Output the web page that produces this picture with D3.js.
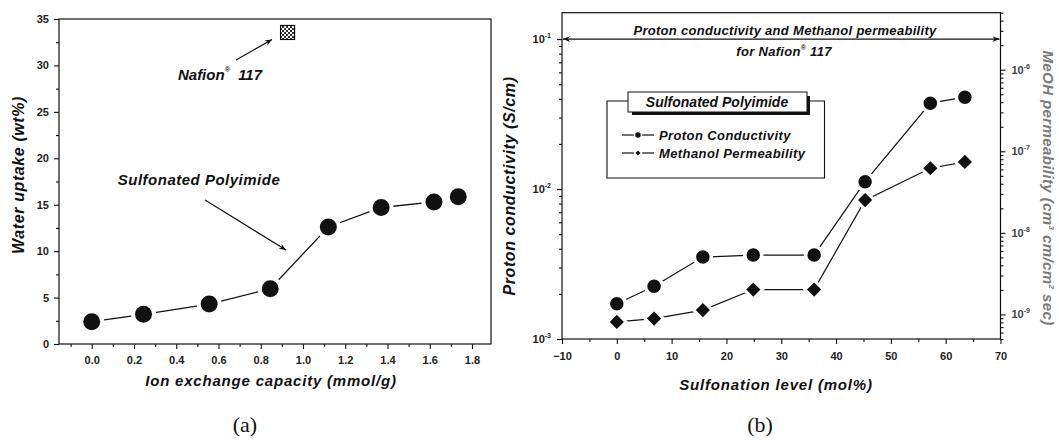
<!DOCTYPE html>
<html><head><meta charset="utf-8">
<script src="https://cdn.jsdelivr.net/npm/d3@7"></script>
<style>
body{margin:0;background:#fff}
text{font-family:"Liberation Sans",Arial,sans-serif;fill:#111}
.domain{display:none}
.tick line{stroke:#111;stroke-width:1.1}
</style>
</head><body>
<svg id="c" width="1059" height="442"></svg>
<script>
// ---- Data: panel (a)
const ionExchange = [0.0, 0.245, 0.556, 0.845, 1.12, 1.37, 1.62, 1.735];
const waterUptake = [2.4, 3.2, 4.3, 5.95, 12.6, 14.7, 15.3, 15.85];
const nafionIEC = [0.927];
const nafionWater = [33.55];
const ticksA_x = [0.0, 0.2, 0.4, 0.6, 0.8, 1.0, 1.2, 1.4, 1.6, 1.8];
const ticksA_y = [0, 5, 10, 15, 20, 25, 30, 35];

// ---- Data: panel (b)
const sulfonation = [0, 6.8, 15.7, 24.9, 36.0, 45.3, 57.2, 63.5];
const conductivity = [1.72e-3, 2.25e-3, 3.52e-3, 3.63e-3, 3.63e-3, 1.12e-2, 3.74e-2, 4.1e-2];
const permeability = [8.1e-10, 8.9e-10, 1.13e-9, 2.02e-9, 2.02e-9, 2.52e-8, 6.2e-8, 7.4e-8];
const ticksB_x = [-10, 0, 10, 20, 30, 40, 50, 60, 70];
const ticksB_yL = [1e-3, 1e-2, 1e-1];
const ticksB_yR = [1e-9, 1e-8, 1e-7, 1e-6];
const legendLabels = ["Proton Conductivity", "Methanol Permeability"];

const svg = d3.select("#c");
const defs = svg.append("defs");
defs.append("marker").attr("id","ah").attr("viewBox","0 0 10 10").attr("refX",10).attr("refY",5)
  .attr("markerWidth",9).attr("markerHeight",7).attr("orient","auto-start-reverse").attr("markerUnits","userSpaceOnUse")
  .append("path").attr("d","M0,1 L10,5 L0,9 L3,5 Z").attr("fill","#111");
const pat = defs.append("pattern").attr("id","chk").attr("width",4).attr("height",4).attr("patternUnits","userSpaceOnUse");
pat.append("rect").attr("width",4).attr("height",4).attr("fill","#fff");
pat.append("rect").attr("width",2).attr("height",2).attr("fill","#333");
pat.append("rect").attr("x",2).attr("y",2).attr("width",2).attr("height",2).attr("fill","#333");

function minorRange(a,b,s){const r=[];for(let v=a;v<=b+1e-9;v+=s)r.push(+v.toFixed(4));return r;}

// ================= Panel (a)
const xA = d3.scaleLinear().domain([-0.155, 1.89]).range([59, 491]);
const yA = d3.scaleLinear().domain([0, 35]).range([344, 19]);
const gA = svg.append("g");
gA.append("rect").attr("x",xA.range()[0]).attr("y",yA.range()[1])
  .attr("width",xA.range()[1]-xA.range()[0]).attr("height",yA.range()[0]-yA.range()[1])
  .attr("fill","none").attr("stroke","#111").attr("stroke-width",1.2);

gA.append("g").attr("transform",`translate(0,${yA.range()[0]})`)
  .call(d3.axisBottom(xA).tickValues(ticksA_x).tickFormat(d3.format(".1f")).tickSize(5).tickPadding(7));
gA.append("g").attr("transform",`translate(0,${yA.range()[0]})`)
  .call(d3.axisBottom(xA).tickValues(minorRange(-0.1,1.8,0.2)).tickFormat("").tickSize(3));
gA.append("g").attr("transform",`translate(${xA.range()[0]},0)`)
  .call(d3.axisLeft(yA).tickValues(ticksA_y).tickSize(5).tickPadding(5));
gA.append("g").attr("transform",`translate(${xA.range()[0]},0)`)
  .call(d3.axisLeft(yA).tickValues(minorRange(2.5,32.5,5)).tickFormat("").tickSize(3));
gA.selectAll(".tick text").attr("font-size",11).attr("font-weight","bold").style("fill","#222");

gA.append("path").datum(ionExchange.map((d,i)=>[d,waterUptake[i]]))
  .attr("d", d3.line().x(d=>xA(d[0])).y(d=>yA(d[1])))
  .attr("fill","none").attr("stroke","#111").attr("stroke-width",1.3);
gA.selectAll("circle.pa").data(ionExchange.map((d,i)=>[d,waterUptake[i]])).enter().append("circle")
  .attr("cx",d=>xA(d[0])).attr("cy",d=>yA(d[1])).attr("r",10.5)
  .attr("fill","#111").attr("stroke","#fff").attr("stroke-width",4);
gA.selectAll("rect.naf").data(nafionIEC.map((d,i)=>[d,nafionWater[i]])).enter().append("rect")
  .attr("x",d=>xA(d[0])-7).attr("y",d=>yA(d[1])-7).attr("width",14).attr("height",14)
  .attr("fill","url(#chk)").attr("stroke","#111").attr("stroke-width",1.2);

gA.append("text").attr("x",220).attr("y",80).attr("text-anchor","middle")
  .attr("font-size",15).attr("font-weight","bold").attr("font-style","italic")
  .html('Nafion<tspan font-size="7" dy="-8">®</tspan><tspan dy="8">  117</tspan>').attr("xml:space","preserve");
gA.append("line").attr("x1",236).attr("y1",60).attr("x2",272).attr("y2",39.5)
  .attr("stroke","#111").attr("stroke-width",1.1).attr("marker-end","url(#ah)");
gA.append("text").attr("x",199).attr("y",185).attr("text-anchor","middle")
  .attr("font-size",15).attr("font-weight","bold").attr("font-style","italic").attr("letter-spacing",0.5)
  .text("Sulfonated Polyimide");
gA.append("line").attr("x1",205).attr("y1",200).attr("x2",286).attr("y2",250)
  .attr("stroke","#111").attr("stroke-width",1.1).attr("marker-end","url(#ah)");

gA.append("text").attr("transform","translate(24,175) rotate(-90)").attr("text-anchor","middle")
  .attr("font-size",16).attr("font-weight","bold").attr("font-style","italic").attr("letter-spacing",0.6)
  .text("Water uptake (wt%)");
gA.append("text").attr("x",271).attr("y",386).attr("text-anchor","middle")
  .attr("font-size",15).attr("font-weight","bold").attr("font-style","italic").attr("letter-spacing",0.8)
  .text("Ion exchange capacity (mmol/g)");
svg.append("text").attr("x",245).attr("y",432).attr("text-anchor","middle")
  .style("font-family","'Liberation Serif','Times New Roman',serif").attr("font-size",22).text("(a)");

// ================= Panel (b)
const xB = d3.scaleLinear().domain([-10, 70]).range([562, 1000.5]);
const yB = d3.scaleLog().domain([1e-3, 0.15]).range([339, 12.7]);
const yR = d3.scaleLog().domain([5e-10, 5e-6]).range([339, 12.7]);
const gB = svg.append("g");
gB.append("rect").attr("x",xB.range()[0]).attr("y",yB.range()[1])
  .attr("width",xB.range()[1]-xB.range()[0]).attr("height",yB.range()[0]-yB.range()[1])
  .attr("fill","none").attr("stroke","#111").attr("stroke-width",1.2);

gB.append("g").attr("transform",`translate(0,${yB.range()[0]})`)
  .call(d3.axisBottom(xB).tickValues(ticksB_x).tickFormat(d3.format("d")).tickSize(5).tickPadding(8));
gB.append("g").attr("transform",`translate(0,${yB.range()[0]})`)
  .call(d3.axisBottom(xB).tickValues(minorRange(-5,65,10)).tickFormat("").tickSize(3));

function minorLog(lo,hi){const r=[];let e=Math.floor(Math.log10(lo));for(;Math.pow(10,e)<=hi;e++){for(let k=2;k<=9;k++){const v=k*Math.pow(10,e);if(v>=lo&&v<=hi)r.push(v);}}return r;}
function supLabels(sel){
  sel.selectAll(".tick text").each(function(d){
    const e=Math.round(Math.log10(d));
    d3.select(this).text(null).call(t=>{t.append("tspan").text("10");t.append("tspan").attr("font-size",7).attr("dy",-5).text(String(e));});
  });
}
const axL = gB.append("g").attr("transform",`translate(${xB.range()[0]},0)`)
  .call(d3.axisLeft(yB).tickValues(ticksB_yL).tickSize(5).tickPadding(6));
supLabels(axL);
gB.append("g").attr("transform",`translate(${xB.range()[0]},0)`)
  .call(d3.axisLeft(yB).tickValues(minorLog(1e-3,0.15)).tickFormat("").tickSize(3));
const axR = gB.append("g").attr("transform",`translate(${xB.range()[1]},0)`)
  .call(d3.axisRight(yR).tickValues(ticksB_yR).tickSize(5).tickPadding(6));
supLabels(axR);
gB.append("g").attr("transform",`translate(${xB.range()[1]},0)`)
  .call(d3.axisRight(yR).tickValues(minorLog(5e-10,5e-6)).tickFormat("").tickSize(3));
gB.selectAll(".tick text").attr("font-size",11).attr("font-weight","bold").style("fill","#222");
axR.selectAll(".tick text").style("fill","#444");

const ptsC = sulfonation.map((d,i)=>[d,conductivity[i]]);
const ptsP = sulfonation.map((d,i)=>[d,permeability[i]]);
gB.append("path").datum(ptsC).attr("d",d3.line().x(d=>xB(d[0])).y(d=>yB(d[1])))
  .attr("fill","none").attr("stroke","#111").attr("stroke-width",1.2);
gB.append("path").datum(ptsP).attr("d",d3.line().x(d=>xB(d[0])).y(d=>yR(d[1])))
  .attr("fill","none").attr("stroke","#111").attr("stroke-width",1.2);
gB.selectAll("circle.pc").data(ptsC).enter().append("circle")
  .attr("cx",d=>xB(d[0])).attr("cy",d=>yB(d[1])).attr("r",8.5)
  .attr("fill","#111").attr("stroke","#fff").attr("stroke-width",3.5);
gB.selectAll("path.pp").data(ptsP).enter().append("path")
  .attr("transform",d=>`translate(${xB(d[0])},${yR(d[1])}) rotate(45)`)
  .attr("d",d3.symbol().type(d3.symbolSquare).size(170))
  .attr("fill","#111").attr("stroke","#fff").attr("stroke-width",3);

// Nafion reference arrow
gB.append("line").attr("x1",xB.range()[0]+1).attr("x2",xB.range()[1]-1).attr("y1",yB(0.1)).attr("y2",yB(0.1))
  .attr("stroke","#111").attr("stroke-width",1.2).attr("marker-start","url(#ah)").attr("marker-end","url(#ah)");
gB.append("text").attr("x",785).attr("y",35).attr("text-anchor","middle")
  .attr("font-size",13).attr("font-weight","bold").attr("font-style","italic").attr("letter-spacing",0.3)
  .text("Proton conductivity and Methanol permeability");
gB.append("text").attr("x",784).attr("y",56).attr("text-anchor","middle")
  .attr("font-size",13).attr("font-weight","bold").attr("font-style","italic").attr("letter-spacing",0.3)
  .html('for Nafion<tspan font-size="7" dy="-6">®</tspan><tspan dy="6"> 117</tspan>');

// Legend
const lg = gB.append("g");
lg.append("path").attr("d","M628,101 L607,101 L607,178 L824.5,178 L824.5,101 L807,101")
  .attr("fill","none").attr("stroke","#111").attr("stroke-width",1.1);
lg.append("rect").attr("x",632).attr("y",96).attr("width",178).attr("height",19).attr("fill","#111");
lg.append("rect").attr("x",628).attr("y",92).attr("width",179).attr("height",20).attr("fill","#fff").attr("stroke","#111").attr("stroke-width",1);
lg.append("text").attr("x",717).attr("y",107).attr("text-anchor","middle")
  .attr("font-size",14).attr("font-weight","bold").attr("font-style","italic").text("Sulfonated Polyimide");
legendLabels.forEach((lab,i)=>{
  const y = 135 + i*18;
  lg.append("line").attr("x1",622).attr("x2",654).attr("y1",y).attr("y2",y).attr("stroke","#111").attr("stroke-width",1.2);
  if(i===0) lg.append("circle").attr("cx",638).attr("cy",y).attr("r",3.5).attr("fill","#111").attr("stroke","#fff").attr("stroke-width",1.5);
  else lg.append("path").attr("transform",`translate(638,${y}) rotate(45)`).attr("d",d3.symbol().type(d3.symbolSquare).size(26))
    .attr("fill","#111").attr("stroke","#fff").attr("stroke-width",1.5);
  lg.append("text").attr("x",659).attr("y",y+5).attr("font-size",13).attr("font-weight","bold").attr("font-style","italic")
    .attr("letter-spacing",0.4).text(lab);
});

// Axis titles
gB.append("text").attr("transform","translate(515,186) rotate(-90)").attr("text-anchor","middle")
  .attr("font-size",16).attr("font-style","italic").attr("font-weight","bold").attr("letter-spacing",0.6)
  .text("Proton conductivity (S/cm)");
gB.append("text").attr("transform","translate(1043,188) rotate(90)").attr("text-anchor","middle")
  .attr("font-size",15).attr("font-style","italic").attr("font-weight","bold").style("fill","#7a7a7a").attr("letter-spacing",0.4)
  .html('MeOH permeability (cm<tspan font-size="8" dy="-6">3</tspan><tspan dy="6"> cm/cm</tspan><tspan font-size="8" dy="-6">2</tspan><tspan dy="6"> sec)</tspan>');
gB.append("text").attr("x",776).attr("y",390).attr("text-anchor","middle")
  .attr("font-size",15).attr("font-style","italic").attr("font-weight","bold").attr("letter-spacing",0.8)
  .text("Sulfonation level (mol%)");
svg.append("text").attr("x",760).attr("y",432).attr("text-anchor","middle")
  .style("font-family","'Liberation Serif','Times New Roman',serif").attr("font-size",22).text("(b)");
</script>
</body></html>
